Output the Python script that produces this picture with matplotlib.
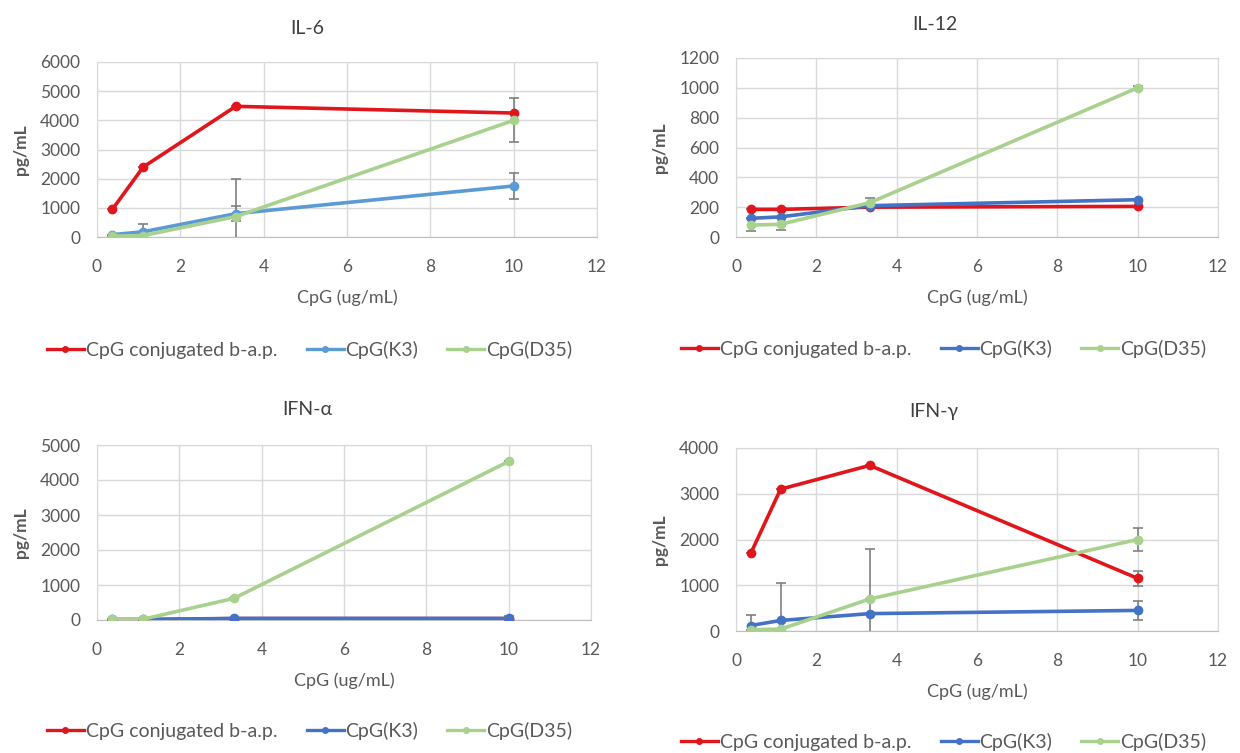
import matplotlib
matplotlib.use("Agg")
from matplotlib import pyplot as plt
from matplotlib.lines import Line2D

plt.rcParams['font.family'] = ['Lato', 'DejaVu Sans']

dose = [0.37, 1.11, 3.33, 10]
names = ["CpG conjugated b-a.p.", "CpG(K3)", "CpG(D35)"]

# IL-6
il6_bap = [950, 2400, 4480, 4250]
il6_bap_err = [0, 0, 0, 0]
il6_k3 = [80, 180, 800, 1750]
il6_k3_err = [0, 270, 250, 450]
il6_d35 = [30, 50, 700, 4000]
il6_d35_err = [0, 0, 1300, 750]

# IL-12
il12_bap = [185, 185, 200, 205]
il12_bap_err = [0, 0, 0, 0]
il12_k3 = [125, 135, 210, 250]
il12_k3_err = [0, 0, 0, 0]
il12_d35 = [80, 85, 230, 1000]
il12_d35_err = [40, 40, 30, 10]

# IFN-alpha
ifna_bap = [10, 10, 40, 40]
ifna_bap_err = [0, 0, 0, 0]
ifna_k3 = [15, 15, 45, 45]
ifna_k3_err = [0, 0, 0, 60]
ifna_d35 = [20, 20, 620, 4530]
ifna_d35_err = [0, 0, 0, 0]

# IFN-gamma
ifng_bap = [1700, 3100, 3620, 1150]
ifng_bap_err = [0, 0, 0, 170]
ifng_k3 = [120, 230, 380, 450]
ifng_k3_err = [230, 820, 1420, 210]
ifng_d35 = [30, 40, 700, 2000]
ifng_d35_err = [0, 0, 0, 250]

red = "#e0161c"
green = "#a9d18e"
blue_light = "#5b9bd5"
blue_dark = "#4472c4"
txt = "#595959"

W, H = 1240, 753
fig = plt.figure(figsize=(W / 100, H / 100), dpi=100)


def panel(rect, title, series, ymax, ystep, blue, title_xy, leg_xy):
    x0, y0, x1, y1 = rect
    ax = fig.add_axes([x0 / W, 1 - y1 / H, (x1 - x0) / W, (y1 - y0) / H])
    cols = [red, blue, green]
    for (vals, errs), c in zip(series, cols):
        ax.errorbar(dose, vals, yerr=errs, color=c, lw=2.6, marker='o', ms=6,
                    ecolor="#808080", elinewidth=1.2, capsize=3.5,
                    capthick=1.2, zorder=3)
    ax.set_xlim(0, 12)
    ax.set_ylim(0, ymax)
    ax.set_xticks(range(0, 13, 2))
    ax.set_yticks(range(0, ymax + 1, ystep))
    ax.grid(True, color="#d9d9d9", lw=1)
    ax.set_axisbelow(True)
    for s in ax.spines.values():
        s.set_color("#d9d9d9")
    ax.spines['bottom'].set_color("#bfbfbf")
    ax.tick_params(length=0, labelsize=12.5, colors=txt)
    ax.tick_params(axis='x', pad=16)
    ax.tick_params(axis='y', pad=12)
    ax.set_ylabel("pg/mL", fontsize=12.5, color=txt, fontweight='bold', labelpad=8)
    ax.set_xlabel("CpG (ug/mL)", fontsize=13, color=txt, labelpad=10)
    fig.text(title_xy[0] / W, 1 - title_xy[1] / H, title,
             ha='center', va='center', fontsize=14, color="#404040")
    handles = [Line2D([], [], color=c, lw=2.4, marker='o', ms=4) for c in cols]
    leg = fig.legend(handles, names, loc='center left',
                     bbox_to_anchor=(leg_xy[0] / W, 1 - leg_xy[1] / H),
                     ncol=3, frameon=False, fontsize=14, handlelength=1.9,
                     columnspacing=1.5, handletextpad=0.1, borderaxespad=0,
                     borderpad=0)
    for t in leg.get_texts():
        t.set_color(txt)
    return ax


panel((97, 62, 597, 237), "IL-6",
      [(il6_bap, il6_bap_err), (il6_k3, il6_k3_err), (il6_d35, il6_d35_err)],
      6000, 1000, blue_light, (307, 28), (47, 350))
panel((736, 58, 1218, 237), "IL-12",
      [(il12_bap, il12_bap_err), (il12_k3, il12_k3_err), (il12_d35, il12_d35_err)],
      1200, 200, blue_dark, (935, 25), (681, 349))
panel((97, 445, 591, 620), "IFN-α",
      [(ifna_bap, ifna_bap_err), (ifna_k3, ifna_k3_err), (ifna_d35, ifna_d35_err)],
      5000, 1000, blue_dark, (307, 410), (47, 731))
panel((736, 448, 1218, 631), "IFN-γ",
      [(ifng_bap, ifng_bap_err), (ifng_k3, ifng_k3_err), (ifng_d35, ifng_d35_err)],
      4000, 1000, blue_dark, (934, 412), (681, 742))

fig.savefig("out.png", dpi=100)
